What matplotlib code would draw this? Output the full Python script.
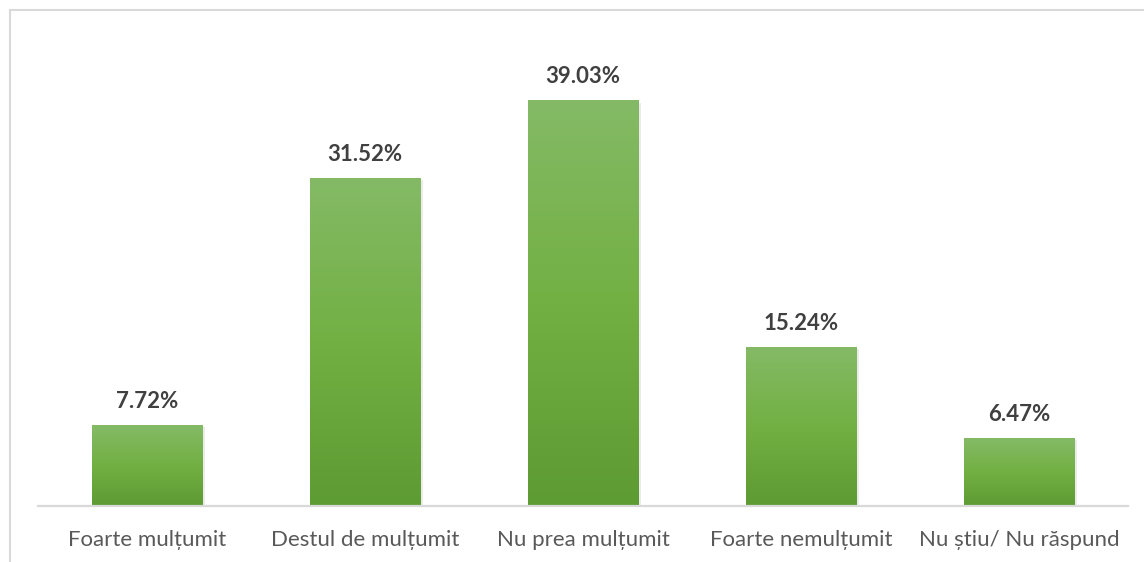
"""Satisfaction survey — gradient bar chart."""

import matplotlib

matplotlib.use("Agg")
import matplotlib.pyplot as plt
import numpy as np
from matplotlib.colors import LinearSegmentedColormap
from matplotlib.patches import Rectangle

categories = [
    "Foarte mulțumit",
    "Destul de mulțumit",
    "Nu prea mulțumit",
    "Foarte nemulțumit",
    "Nu știu/ Nu răspund",
]
values = [7.72, 31.52, 39.03, 15.24, 6.47]
value_labels = ["7.72%", "31.52%", "39.03%", "15.24%", "6.47%"]

FAMILY = ["Lato", "DejaVu Sans"]
plt.rcParams["font.family"] = FAMILY

W, H = 1144, 562
fig = plt.figure(figsize=(W / 100, H / 100), dpi=100)
ax = fig.add_axes([38 / W, 1 - 506 / H, (1128 - 38) / W, (506 - 39) / H])

green = LinearSegmentedColormap.from_list("green", ["#5d9b33", "#72b043", "#84ba66"])
grad = np.linspace(0, 1, 256).reshape(-1, 1)
bar_w = 0.505

x = np.arange(len(categories))
for xi, v, lab in zip(x, values, value_labels):
    # soft shadow
    ax.add_patch(Rectangle((xi - bar_w / 2 + 0.012, -0.2), bar_w, v + 0.05,
                           facecolor="#000000", alpha=0.08, edgecolor="none", zorder=1))
    ax.imshow(grad, cmap=green, origin="lower", aspect="auto",
              extent=[xi - bar_w / 2, xi + bar_w / 2, 0, v], zorder=2)
    ax.annotate(lab, (xi, v), xytext=(0, 10), textcoords="offset points",
                ha="center", va="bottom", fontsize=16, fontweight="bold",
                color="#404040", family=FAMILY)

ax.set_xlim(-0.5, len(categories) - 0.5)
ax.set_ylim(0, 45)
ax.set_xticks(x)
ax.set_xticklabels(categories, fontsize=16, color="#595959")
ax.tick_params(axis="x", length=0, pad=17)
ax.set_yticks([])
for side in ["top", "right", "left"]:
    ax.spines[side].set_visible(False)
ax.spines["bottom"].set_color("#d9d9d9")
ax.spines["bottom"].set_linewidth(1.6)
ax.spines["bottom"].set_zorder(3)

# chart-area frame (cut off at right and bottom as in the source)
fig.patches.append(Rectangle((9.5 / W, -0.05), 1.1, 1 - 9.5 / H + 0.05,
                             transform=fig.transFigure, fill=False,
                             edgecolor="#d9d9d9", linewidth=1.5))

fig.savefig("out.png", dpi=100)
